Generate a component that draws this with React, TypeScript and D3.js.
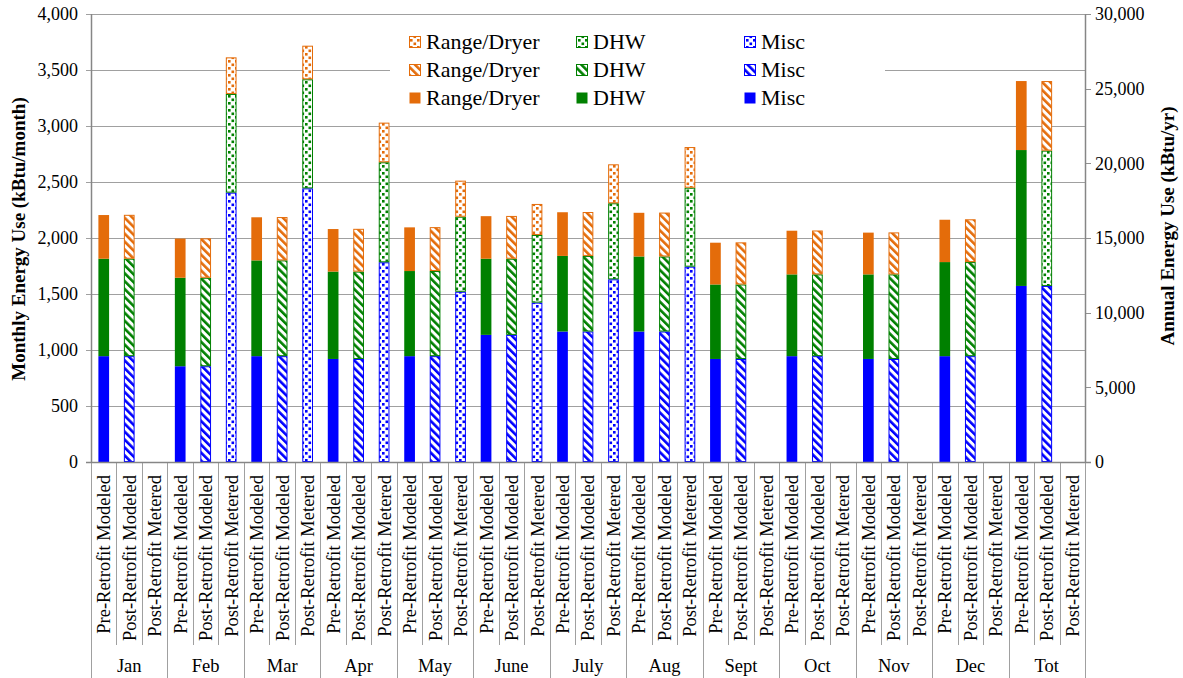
import React from "react";
import * as d3 from "d3";

const months = ["Jan", "Feb", "Mar", "Apr", "May", "June", "July", "Aug", "Sept", "Oct", "Nov", "Dec", "Tot"];
const scenarios = ["Pre-Retrofit Modeled", "Post-Retrofit Modeled", "Post-Retrofit Metered"];
const seriesNames = ["Misc", "DHW", "Range/Dryer"];

// Segment values (kBtu/month; "Tot" is kBtu/yr on the right axis)
const preMisc = [945, 855, 945, 920, 945, 1135, 1165, 1165, 920, 945, 920, 945, 11790];
const preDhw = [870, 790, 855, 780, 760, 680, 675, 670, 665, 730, 755, 840, 9100];
const preRange = [390, 350, 385, 380, 390, 380, 390, 390, 373, 390, 373, 378, 4620];

const postMisc = [945, 855, 945, 920, 945, 1135, 1165, 1165, 920, 945, 920, 945, 11790];
const postDhw = [870, 790, 855, 780, 760, 680, 675, 670, 665, 730, 755, 840, 9060];
const postRange = [392, 352, 387, 382, 392, 382, 392, 392, 376, 392, 375, 382, 4660];

const metMisc = [null, 2405, 2443, 1783, 1520, 1423, 1631, 1744, null, null, null, null, null];
const metDhw = [null, 881, 974, 893, 670, 604, 679, 705, null, null, null, null, null];
const metRange = [null, 327, 300, 354, 322, 277, 348, 363, null, null, null, null, null];

const leftTicks = [0, 500, 1000, 1500, 2000, 2500, 3000, 3500, 4000];
const rightTicks = [0, 5000, 10000, 15000, 20000, 25000, 30000];

const colors = ["#0000FF", "#008000", "#E46C0A"]; // misc, dhw, range
const keys = ["misc", "dhw", "range"];

const W = 1183, H = 678;
const L = 91, R = 1085, T = 14, B = 462;
const FONT = "'Liberation Serif', Tinos, 'Times New Roman', Times, 'DejaVu Serif', serif";
const ts: React.CSSProperties = { fontFamily: FONT };

export default function App() {
  const slots = months.flatMap((m) => scenarios.map((s) => m + "|" + s));
  const x = d3.scaleBand<string>().domain(slots).range([L, R]).paddingInner(0.58).paddingOuter(0.29);
  const yL = d3.scaleLinear().domain([0, 4000]).range([B, T]);
  const yR = d3.scaleLinear().domain([0, 30000]).range([B, T]);
  const step = x.step();
  const fmt = d3.format(",");

  const data = [
    [preMisc, preDhw, preRange],
    [postMisc, postDhw, postRange],
    [metMisc, metDhw, metRange],
  ];

  const fillFor = (si: number, k: number, mi: number) => {
    let kind = si === 0 ? "solid" : si === 1 ? "hatch" : "dots";
    if (months[mi] === "Tot" && si === 1 && k === 1) kind = "dots";
    if (kind === "solid") return { fill: colors[k], stroke: "none" };
    return { fill: `url(#${kind}-${keys[k]})`, stroke: colors[k] };
  };

  const bars: React.ReactNode[] = [];
  months.forEach((m, mi) => {
    const y = m === "Tot" ? yR : yL;
    scenarios.forEach((s, si) => {
      const vals = data[si].map((arr) => arr[mi]);
      if (vals.some((v) => v == null)) return;
      const cum = [0, ...d3.cumsum(vals as number[])];
      const bx = x(m + "|" + s)!;
      vals.forEach((v, k) => {
        const y0 = y(cum[k]);
        const y1 = y(cum[k + 1]);
        const f = fillFor(si, k, mi);
        const inset = f.stroke === "none" ? 0 : 0.5;
        bars.push(
          <rect
            key={`${mi}-${si}-${k}`}
            x={bx + inset}
            y={y1 + inset}
            width={x.bandwidth() - 2 * inset}
            height={Math.max(0, y0 - y1 - 2 * inset)}
            fill={f.fill}
            stroke={f.stroke}
            strokeWidth={1}
          />
        );
      });
    });
  });

  const legendRows = ["dots", "hatch", "solid"];
  const legendRowY = [42, 70, 98];
  const legendCols = [
    { x: 409, k: 2 },
    { x: 576, k: 1 },
    { x: 744, k: 0 },
  ];

  return (
    <svg width={W} height={H} style={{ position: "absolute", left: 0, top: 0, background: "#fff", fontFamily: FONT }}>
      <defs>
        {keys.map((k, i) => (
          <React.Fragment key={k}>
            <pattern id={`hatch-${k}`} patternUnits="userSpaceOnUse" width={5.6} height={5.6} patternTransform="rotate(-45)">
              <rect width={5.6} height={5.6} fill="#fff" />
              <rect width={2.6} height={5.6} fill={colors[i]} />
            </pattern>
            <pattern id={`dots-${k}`} patternUnits="userSpaceOnUse" width={7} height={7}>
              <rect width={7} height={7} fill="#fff" />
              <rect x={0.5} y={0.5} width={2.6} height={2.6} fill={colors[i]} />
              <rect x={4} y={4} width={2.6} height={2.6} fill={colors[i]} />
            </pattern>
          </React.Fragment>
        ))}
      </defs>

      {/* gridlines */}
      {leftTicks.map((t) => (
        <line key={"g" + t} x1={L - 5} x2={R} y1={yL(t) + 0.5} y2={yL(t) + 0.5} stroke="#A0A0A0" strokeWidth={1} />
      ))}
      {rightTicks.map((t) => (
        <line key={"rt" + t} x1={R} x2={R + 6} y1={Math.round(yR(t)) + 0.5} y2={Math.round(yR(t)) + 0.5} stroke="#909090" strokeWidth={1} />
      ))}

      {/* category separators */}
      {d3.range(slots.length + 1).map((i) => {
        const lx = Math.round(L + i * step) + 0.5;
        const isGroup = i % 3 === 0;
        return <line key={"s" + i} x1={lx} x2={lx} y1={B} y2={isGroup ? H : 645} stroke="#A0A0A0" strokeWidth={1} />;
      })}

      {bars}

      {/* axes */}
      <line x1={L + 0.5} x2={L + 0.5} y1={T} y2={B} stroke="#868686" strokeWidth={1.5} />
      <line x1={R + 0.5} x2={R + 0.5} y1={T} y2={B} stroke="#868686" strokeWidth={1.5} />
      <line x1={L - 5} x2={R + 6} y1={B + 0.5} y2={B + 0.5} stroke="#868686" strokeWidth={1.5} />

      {/* tick labels */}
      {leftTicks.map((t) => (
        <text key={"lt" + t} style={ts} x={78} y={yL(t)} dy="0.35em" textAnchor="end" fontSize={18} fill="#000">
          {fmt(t)}
        </text>
      ))}
      {rightTicks.map((t) => (
        <text key={"rl" + t} style={ts} x={1095} y={yR(t)} dy="0.35em" textAnchor="start" fontSize={18} fill="#000">
          {fmt(t)}
        </text>
      ))}

      {/* category labels */}
      {slots.map((sl) => {
        const cx = x(sl)! + x.bandwidth() / 2;
        const label = sl.split("|")[1];
        return (
          <text key={"cl" + sl} style={ts} transform={`translate(${cx},475) rotate(-90)`} dy="0.35em" textAnchor="end" fontSize={18.5} fill="#000">
            {label}
          </text>
        );
      })}
      {months.map((m, mi) => (
        <text key={"m" + m} style={ts} x={L + (mi * 3 + 1.5) * step} y={672} textAnchor="middle" fontSize={18.5} fill="#000">
          {m}
        </text>
      ))}

      {/* axis titles */}
      <text style={ts} transform="translate(18,239) rotate(-90)" dy="0.35em" textAnchor="middle" fontSize={19} fontWeight="bold" fill="#000">
        Monthly Energy Use (kBtu/month)
      </text>
      <text style={ts} transform="translate(1167,226) rotate(-90)" dy="0.35em" textAnchor="middle" fontSize={19} fontWeight="bold" fill="#000">
        Annual Energy Use (kBtu/yr)
      </text>

      {/* legend */}
      <rect x={390} y={27} width={495} height={86} fill="#fff" />
      {legendRows.map((kind, ri) =>
        legendCols.map((c) => {
          const cy = legendRowY[ri];
          const k = c.k;
          const solid = kind === "solid";
          return (
            <g key={`lg${ri}-${k}`}>
              <rect
                x={c.x + 0.5}
                y={cy - 6 + 0.5}
                width={11}
                height={11}
                fill={solid ? colors[k] : `url(#${kind}-${keys[k]})`}
                stroke={solid ? "none" : colors[k]}
              />
              <text style={ts} x={c.x + 17} y={cy} dy="0.34em" fontSize={22} fill="#000">
                {seriesNames[k]}
              </text>
            </g>
          );
        })
      )}
    </svg>
  );
}
